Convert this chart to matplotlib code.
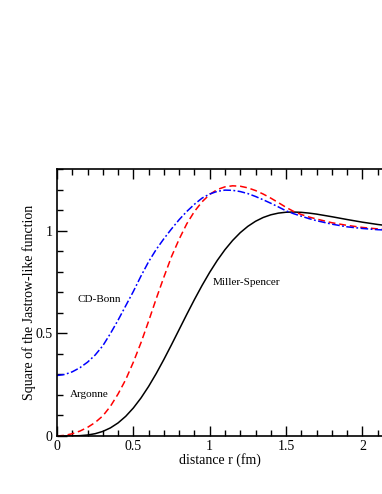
import matplotlib
matplotlib.use('Agg')
import matplotlib.pyplot as plt
from matplotlib.ticker import MultipleLocator, FuncFormatter

matplotlib.rcParams.update({
	"font.family": "serif",
	"font.serif": ["Liberation Serif", "DejaVu Serif"],
	"font.size": 10,
})

# distance r (fm) and the three squared correlation functions
r_fine = [0.0, 0.05, 0.1, 0.15, 0.2, 0.25, 0.3, 0.35, 0.4, 0.45, 0.5, 0.55, 0.6, 0.65, 0.7, 0.75,
	0.8, 0.85, 0.9, 0.95, 1.0, 1.05, 1.1, 1.15, 1.2, 1.25, 1.3, 1.35, 1.4, 1.45, 1.5, 1.55,
	1.6, 1.65, 1.7, 1.8, 1.9, 2.0, 2.1, 2.2]

miller_spencer = [0.0, 0.00002, 0.0003, 0.0016, 0.0048, 0.0113, 0.0224, 0.0396, 0.0638, 0.0960,
	0.1366, 0.1854, 0.2418, 0.3049, 0.3734, 0.4454, 0.5193, 0.5933, 0.6654, 0.7342, 0.7983,
	0.8567, 0.9086, 0.9535, 0.9915, 1.0225, 1.0470, 1.0655, 1.0786, 1.0869, 1.0912, 1.0922,
	1.0906, 1.0870, 1.0820, 1.0693, 1.0556, 1.0427, 1.0315, 1.0224]

argonne = [0.0, 0.003, 0.011, 0.024, 0.042, 0.066, 0.098, 0.145, 0.205, 0.275, 0.36, 0.455,
	0.56, 0.67, 0.775, 0.875, 0.96, 1.035, 1.095, 1.142, 1.178, 1.202, 1.215, 1.22, 1.218,
	1.21, 1.197, 1.18, 1.16, 1.138, 1.115, 1.095, 1.08, 1.068, 1.058, 1.04, 1.027, 1.017,
	1.01, 1.006]

cd_bonn = [0.295, 0.300, 0.313, 0.333, 0.36, 0.395, 0.44, 0.5, 0.565, 0.635, 0.705, 0.78, 0.85,
	0.91, 0.962, 1.01, 1.055, 1.095, 1.13, 1.16, 1.18, 1.193, 1.199, 1.198, 1.192, 1.182,
	1.168, 1.152, 1.135, 1.117, 1.098, 1.084, 1.072, 1.06, 1.05, 1.033, 1.02, 1.012, 1.006,
	1.003]

fig = plt.figure(figsize=(3.82, 4.94), dpi=100)
ax = fig.add_axes([57/382, 1 - 436/494, 1 - 57/382, (436 - 169)/494])

ax.plot(r_fine, miller_spencer, color='black', lw=1.1)
ax.plot(r_fine, argonne, color='red', lw=1.1, linestyle=(0, (4.5, 2.5)))
ax.plot(r_fine, cd_bonn, color='blue', lw=1.1, linestyle=(0, (5, 1.6, 1.2, 1.6)))

ax.text(0.135, 0.665, 'CD-Bonn', fontsize=8, va='center')
ax.text(0.085, 0.203, 'Argonne', fontsize=8, va='center')
ax.text(1.02, 0.75, 'Miller-Spencer', fontsize=8, va='center')

ax.set_xlim(0, 325/152.7)
ax.set_ylim(0, 1.302)
ax.xaxis.set_major_locator(MultipleLocator(0.5))
ax.xaxis.set_minor_locator(MultipleLocator(0.1))
ax.yaxis.set_major_locator(MultipleLocator(0.5))
ax.yaxis.set_minor_locator(MultipleLocator(0.1))
ax.xaxis.set_major_formatter(FuncFormatter(lambda v, p: '%g' % v))
ax.yaxis.set_major_formatter(FuncFormatter(lambda v, p: '%g' % v))

ax.tick_params(which='both', direction='in', top=True, right=False, width=1.0)
ax.tick_params(which='major', length=7, pad=3)
ax.tick_params(which='minor', length=4)
ax.spines['right'].set_visible(False)
for s in ['left', 'bottom', 'top']:
	ax.spines[s].set_linewidth(1.2)

ax.set_xlabel('distance r (fm)', fontsize=10, labelpad=0)
ax.set_ylabel('Square of the Jastrow-like function', fontsize=10, labelpad=-0.5)

plt.savefig('out.png', dpi=100)
